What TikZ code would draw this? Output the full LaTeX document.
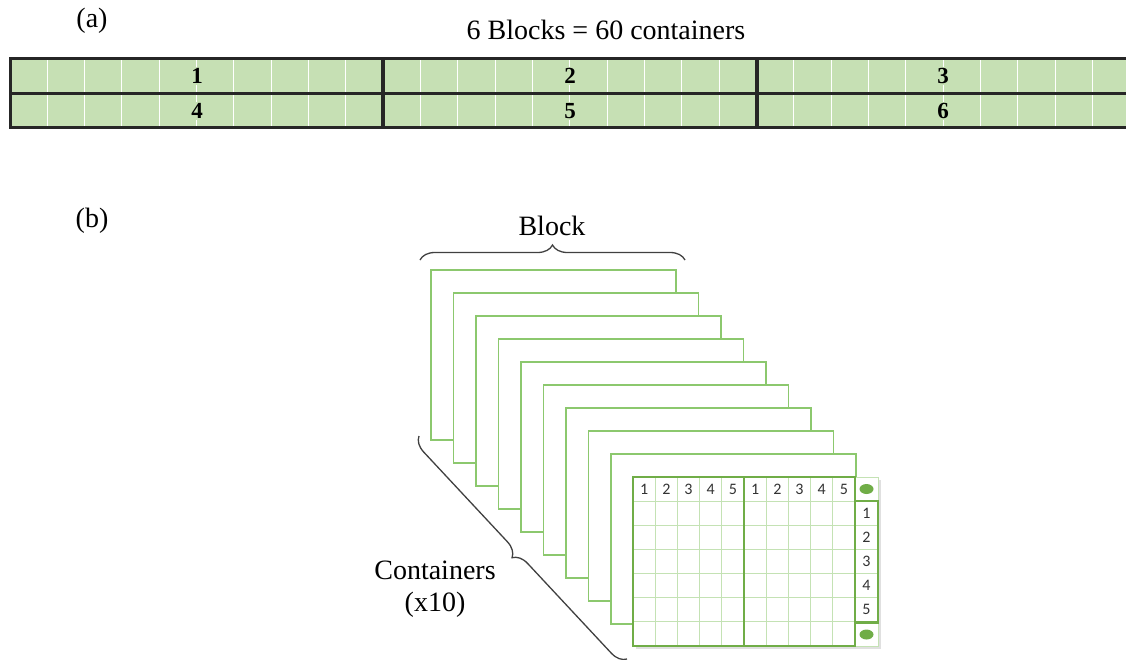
\documentclass[tikz,border=0pt]{standalone}
\usepackage{fontspec}
\setmainfont{Liberation Serif}
\newfontfamily\gridfont{Carlito}
\usetikzlibrary{decorations.pathreplacing}
\definecolor{cellgreen}{RGB}{198,224,180}
\definecolor{edgegray}{RGB}{38,38,38}
\definecolor{framegreen}{RGB}{140,200,110}
\definecolor{gridthin}{RGB}{196,226,180}
\definecolor{gridthick}{RGB}{112,173,71}

\begin{document}
\begin{tikzpicture}[x=1pt,y=-1pt]
    \tikzstyle{every node}+=[inner sep=0pt]
    \tikzstyle{caption}=[font=\fontsize{28}{32}\selectfont]
    \tikzstyle{blocknum}=[font=\fontsize{23}{24}\selectfont\bfseries, fill=cellgreen, inner sep=1.5pt]
    \tikzstyle{container}=[draw=framegreen, line width=1.2pt, fill=white]
    \tikzstyle{brace}=[decorate, decoration={brace, amplitude=15pt}, draw=black!75, line width=1.3pt]
    \tikzstyle{cellnum}=[font=\gridfont\fontsize{16}{17}\selectfont, text=black!80]
    \useasboundingbox (0,0) rectangle (1126,659);
    \clip (0,0) rectangle (1126,659);
    % (a) the six blocks
    \node [caption] (tagA) at (92,21) {(a)};
    \node [caption] (title) at (606,30) {6 Blocks = 60 containers};
    \fill [cellgreen] (10,58) rectangle (1131,127);
    \foreach \k in {1,...,29}
        \draw [white, line width=1pt] ({10+37.33*\k},58) -- ({10+37.33*\k},127);
    \draw [edgegray, line width=3pt] (10,58) rectangle (1131,127);
    \draw [edgegray, line width=3pt] (10,93) -- (1131,93);
    \draw [edgegray, line width=3.5pt] (383,58) -- (383,127);
    \draw [edgegray, line width=3.5pt] (757,58) -- (757,127);
    \foreach \n/\x/\y in {1/197/76, 2/570/76, 3/943/76, 4/197/111, 5/570/111, 6/943/111}
        \node [blocknum] (blk\n) at (\x,\y) {\n};
    % (b) one block
    \node [caption] (tagB) at (92,221) {(b)};
    \foreach \i in {0,...,8}
        \draw [container] ({431+22.5*\i},{270+23*\i}) rectangle ++(245,170);
    \fill [black!12] (636,480) rectangle (881,649);
    \fill [white] (633,477) rectangle (878,646);
    \foreach \c in {1,...,9}
        \draw [gridthin, line width=0.9pt] ({633+22.2*\c},477) -- ({633+22.2*\c},646);
    \foreach \r in {1,...,6}
        \draw [gridthin, line width=0.9pt] (633,{477+24.14*\r}) -- (878,{477+24.14*\r});
    \draw [gridthin, line width=0.9pt] (855,477) rectangle (878,646);
    \draw [gridthick, line width=2.5pt] (633,477) rectangle (855,646);
    \draw [gridthick, line width=2.5pt] (744,477) -- (744,646);
    \draw [gridthick, line width=2.5pt] (855,501.1) rectangle (878,622.7);
    \foreach \c in {1,...,5} {
        \node [cellnum] (colL\c) at ({633+22.2*(\c-0.5)},489) {\c};
        \node [cellnum] (colR\c) at ({744+22.2*(\c-0.5)},489) {\c};
        \node [cellnum] (row\c) at (866.5,{477+24.14*(\c+0.5)}) {\c};
    }
    \fill [gridthick] (866.5,489) ellipse (7 and 5);
    \fill [gridthick] (866.5,634.5) ellipse (7 and 5);
    % braces
    \coordinate (blockL) at (420,260);
    \coordinate (blockR) at (685,260);
    \draw [brace] (blockL) -- (blockR);
    \node [caption] (blocktxt) at (552,226) {Block};
    \coordinate (contTop) at (419,436);
    \coordinate (contBot) at (627,659);
    \draw [brace] (contBot) -- (contTop);
    \node [caption, align=center] (conttxt) at (435,589) {Containers\\(x10)};
\end{tikzpicture}
\end{document}
